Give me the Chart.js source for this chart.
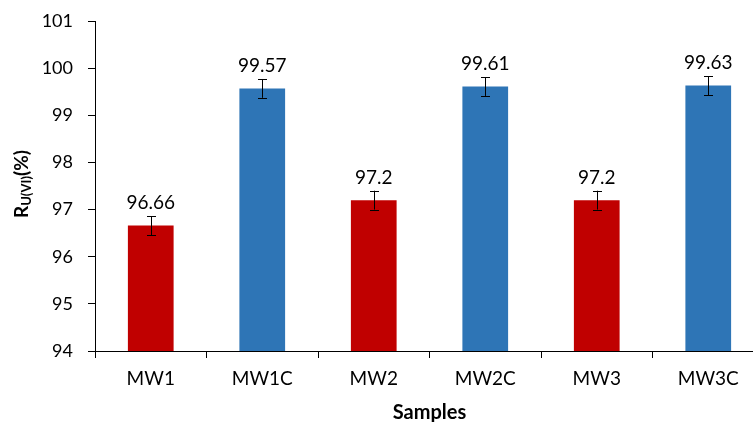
<!DOCTYPE html>
<html>
<head>
<meta charset="utf-8">
<script src="https://cdn.jsdelivr.net/npm/chart.js@4"></script>
<style>
  html, body { margin: 0; padding: 0; background: #fff; overflow: hidden; }
  #wrap { width: 770px; height: 422px; position: relative; }
</style>
</head>
<body>
<div id="wrap"><canvas id="c"></canvas></div>
<script>
// Uranium(VI) removal per sample
const categories = ['MW1', 'MW1C', 'MW2', 'MW2C', 'MW3', 'MW3C'];
const removal = [96.66, 99.57, 97.2, 99.61, 97.2, 99.63];
const removalErr = [0.2, 0.2, 0.2, 0.2, 0.2, 0.2];
const valueLabels = ['96.66', '99.57', '97.2', '99.61', '97.2', '99.63'];
const barColors = ['#C00000', '#2E75B6', '#C00000', '#2E75B6', '#C00000', '#2E75B6'];

const FONT = 'Lato, "Open Sans", sans-serif';

// error bars with value labels above them
const errorBars = {
  id: 'errorBars',
  afterDatasetsDraw(chart) {
    const ctx = chart.ctx;
    const y = chart.scales.y;
    const meta = chart.getDatasetMeta(0);
    ctx.save();
    ctx.strokeStyle = '#000';
    ctx.lineWidth = 1;
    meta.data.forEach((bar, i) => {
      const x = Math.round(bar.x) + 0.5;
      const top = y.getPixelForValue(removal[i] + removalErr[i]);
      const bot = y.getPixelForValue(removal[i] - removalErr[i]);
      ctx.beginPath();
      ctx.moveTo(x, top); ctx.lineTo(x, bot);
      ctx.moveTo(x - 4.5, Math.round(top) + 0.5); ctx.lineTo(x + 4.5, Math.round(top) + 0.5);
      ctx.moveTo(x - 4.5, Math.round(bot) + 0.5); ctx.lineTo(x + 4.5, Math.round(bot) + 0.5);
      ctx.stroke();
      ctx.fillStyle = '#000';
      ctx.font = '19px ' + FONT;
      ctx.textAlign = 'center';
      ctx.textBaseline = 'alphabetic';
      ctx.fillText(valueLabels[i], bar.x, top - 7);
    });
    ctx.restore();
  }
};

// y-axis title with subscript
const yTitle = {
  id: 'yTitle',
  afterDraw(chart) {
    const ctx = chart.ctx;
    ctx.save();
    ctx.translate(22, 184);
    ctx.rotate(-Math.PI / 2);
    ctx.fillStyle = '#000';
    ctx.textBaseline = 'middle';
    const big = 'bold 19px ' + FONT;
    const small = 'bold 13px ' + FONT;
    const parts = [['R', big, 0], ['U(VI)', small, 5], ['(%)', big, 0]];
    let total = 0;
    parts.forEach(p => { ctx.font = p[1]; total += ctx.measureText(p[0]).width; });
    let x = -total / 2;
    ctx.textAlign = 'left';
    parts.forEach(p => {
      ctx.font = p[1];
      ctx.fillText(p[0], x, p[2]);
      x += ctx.measureText(p[0]).width;
    });
    ctx.restore();
  }
};

new Chart(document.getElementById('c'), {
  type: 'bar',
  data: {
    labels: categories,
    datasets: [{
      data: removal,
      backgroundColor: barColors,
      borderWidth: 0,
      categoryPercentage: 1,
      barPercentage: 0.41
    }]
  },
  options: {
    responsive: true,
    maintainAspectRatio: false,
    animation: false,
    layout: { padding: { top: 21, right: 6, left: 0, bottom: 0 } },
    plugins: { legend: { display: false }, tooltip: { enabled: false } },
    scales: {
      x: {
        grid: { display: true, offset: true, drawOnChartArea: false, tickLength: 7, color: '#000', tickColor: '#000' },
        border: { display: true, color: '#000', width: 1 },
        ticks: { color: '#000', font: { family: FONT, size: 19 }, padding: 9 },
        title: { display: true, text: 'Samples', color: '#000', font: { family: FONT, size: 20, weight: 'bold' }, padding: { top: 0, bottom: -3 } },
        afterFit(s) { s.height = 71; }
      },
      y: {
        min: 94, max: 101,
        grid: { display: true, drawOnChartArea: false, tickLength: 7, color: '#000', tickColor: '#000' },
        border: { display: true, color: '#000', width: 1 },
        ticks: { stepSize: 1, color: '#000', font: { family: FONT, size: 18 }, padding: 15 },
        afterFit(s) { s.width = 95; s.paddingTop = 0; s.paddingBottom = 0; }
      }
    }
  },
  plugins: [errorBars, yTitle]
});
</script>
</body>
</html>
